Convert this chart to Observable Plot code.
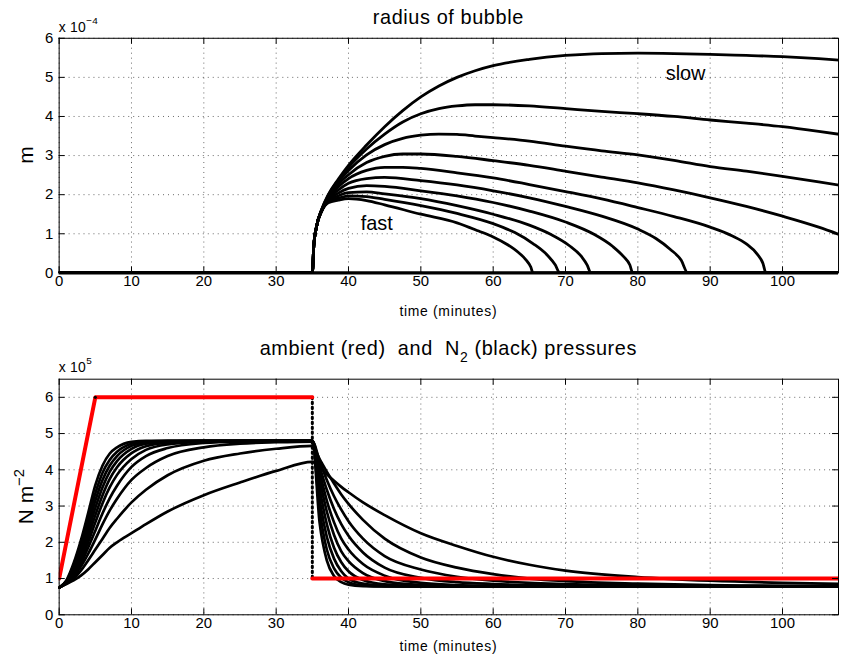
<!DOCTYPE html>
<html><head><meta charset="utf-8">
<script src="https://cdn.jsdelivr.net/npm/d3@7"></script>
<script src="https://cdn.jsdelivr.net/npm/@observablehq/plot@0.6"></script>
<style>
html,body{margin:0;padding:0;background:#fff;overflow:hidden;}
#chart{position:relative;width:841px;height:664px;overflow:hidden;background:#fff;}
#chart svg{display:block;}
</style></head><body><div id="chart"></div>
<script>
// ---------- data ----------
const xTicks = [0,10,20,30,40,50,60,70,80,90,100];
const radiusTicks = [0,1,2,3,4,5,6];
const pressureTicks = [0,1,2,3,4,5,6];
const xMax = 107.74;

// bubble radius (x 1e-4 m) per tissue, [time (min), radius]
const radiusCurves = [
 [[0,0],[35,0],[35.2,0.69],[35.6,1.2],[36.3,1.63],[37.2,2.0],[38.6,2.4],[40,2.75],[42.5,3.27],[45,3.74],[47.5,4.15],[50,4.5],[52.5,4.78],[55,5.0],[57.5,5.17],[60,5.3],[65,5.46],[70,5.56],[75,5.61],[80,5.62],[85,5.61],[90,5.59],[95,5.56],[100,5.53],[105,5.48],[108,5.44]],
 [[0,0],[35,0],[35.2,0.69],[35.6,1.2],[36.3,1.62],[37.2,1.98],[38.6,2.37],[40,2.7],[42.5,3.17],[45,3.55],[47.5,3.86],[50,4.07],[52.5,4.2],[55,4.27],[57.5,4.3],[60,4.3],[65,4.27],[70,4.2],[75,4.13],[80,4.07],[85,4.0],[90,3.91],[95,3.83],[100,3.74],[105,3.62],[108,3.54]],
 [[0,0],[35,0],[35.2,0.69],[35.6,1.2],[36.3,1.61],[37.2,1.96],[38.6,2.33],[40,2.62],[42.5,3.02],[45,3.28],[47.5,3.44],[50,3.52],[52.5,3.55],[55,3.54],[57.5,3.5],[60,3.46],[65,3.37],[70,3.24],[75,3.12],[80,3.02],[85,2.88],[90,2.72],[95,2.6],[100,2.47],[105,2.33],[108,2.24]],
 [[0,0],[35,0],[35.2,0.69],[35.6,1.2],[36.3,1.61],[37.2,1.93],[38.6,2.27],[40,2.51],[42.5,2.82],[45,2.98],[47.5,3.04],[50,3.04],[55,2.98],[60,2.87],[65,2.75],[70,2.6],[75,2.45],[80,2.3],[85,2.12],[90,1.92],[95,1.7],[100,1.45],[105,1.17],[108,0.97]],
 [[0,0],[35,0],[35.2,0.69],[35.6,1.2],[36.3,1.6],[37.2,1.91],[38.6,2.2],[40,2.41],[42.5,2.62],[45,2.7],[47.5,2.7],[50,2.67],[55,2.56],[60,2.43],[65,2.26],[70,2.08],[75,1.89],[80,1.67],[85,1.44],[90,1.17],[93,0.95],[95,0.74],[96.5,0.48],[97.3,0.24],[97.7,0],[108,0]],
 [[0,0],[35,0],[35.2,0.69],[35.6,1.2],[36.3,1.6],[37.2,1.88],[38.6,2.12],[40,2.29],[42.5,2.41],[45,2.44],[50,2.36],[55,2.25],[60,2.1],[65,1.92],[70,1.7],[75,1.45],[80,1.12],[82.5,0.88],[84.5,0.6],[86,0.32],[86.9,0],[108,0]],
 [[0,0],[35,0],[35.2,0.69],[35.6,1.2],[36.3,1.59],[37.2,1.86],[38.6,2.04],[40,2.16],[42.5,2.23],[45,2.21],[50,2.1],[55,1.97],[60,1.8],[65,1.58],[70,1.3],[74,0.98],[76.5,0.68],[78,0.42],[78.9,0.2],[79.3,0],[108,0]],
 [[0,0],[35,0],[35.2,0.69],[35.6,1.2],[36.3,1.59],[37.2,1.84],[38.6,1.97],[40,2.05],[42.5,2.07],[45,2.02],[50,1.9],[55,1.72],[60,1.5],[65,1.22],[68,0.98],[70.5,0.7],[72.2,0.42],[73,0.2],[73.5,0],[108,0]],
 [[0,0],[35,0],[35.2,0.69],[35.6,1.2],[36.3,1.58],[37.2,1.82],[38.6,1.91],[40,1.97],[42.5,1.95],[45,1.88],[50,1.72],[55,1.52],[60,1.26],[63,1.03],[65.5,0.75],[67.5,0.45],[68.6,0.2],[69.2,0],[108,0]],
 [[0,0],[35,0],[35.2,0.69],[35.6,1.2],[36.3,1.58],[37.2,1.79],[38.6,1.86],[40,1.9],[42.5,1.85],[45,1.74],[50,1.5],[55,1.28],[58,1.07],[60,0.92],[62,0.72],[63.5,0.52],[64.5,0.34],[65.2,0.15],[65.5,0],[108,0]]
];

// N2 tissue pressure (x 1e5 N m^-2), compression phase
const riseTimes = [0,1,2,3,4,5,6,7,8,10,12,15,20,25,30,35];
const n2Rise = [
 [0.75,0.95,1.42,2.05,2.8,3.58,4.12,4.45,4.62,4.77,4.8,4.8,4.8,4.8,4.8,4.8],
 [0.75,0.93,1.36,1.93,2.62,3.35,3.92,4.28,4.5,4.72,4.78,4.8,4.8,4.8,4.8,4.8],
 [0.75,0.92,1.3,1.82,2.45,3.15,3.72,4.12,4.38,4.66,4.75,4.79,4.8,4.8,4.8,4.8],
 [0.75,0.91,1.25,1.72,2.3,2.95,3.52,3.95,4.24,4.58,4.72,4.78,4.8,4.8,4.8,4.8],
 [0.75,0.9,1.2,1.62,2.15,2.75,3.3,3.75,4.07,4.46,4.65,4.75,4.79,4.8,4.8,4.8],
 [0.75,0.89,1.15,1.52,2.0,2.55,3.08,3.52,3.86,4.3,4.55,4.7,4.77,4.79,4.8,4.8],
 [0.75,0.88,1.1,1.42,1.85,2.32,2.8,3.22,3.56,4.08,4.38,4.6,4.74,4.78,4.79,4.8],
 [0.75,0.87,1.05,1.33,1.68,2.08,2.5,2.88,3.2,3.72,4.05,4.38,4.62,4.72,4.76,4.78],
 [0.75,0.86,1.0,1.22,1.5,1.8,2.1,2.4,2.65,3.1,3.45,3.85,4.25,4.45,4.58,4.66],
 [0.75,0.85,0.95,1.08,1.25,1.45,1.65,1.85,2.0,2.25,2.5,2.85,3.3,3.65,3.97,4.22]
];
// decompression phase
const decayTimes = [35,36,37,38,39,40,42,45,50,55,60,65,70,80,90,100,108];
const n2Decay = [
 [4.8,2.55,1.5,1.07,0.9,0.83,0.79,0.78,0.78,0.78,0.78,0.78,0.78,0.78,0.78,0.78,0.78],
 [4.8,2.9,1.8,1.28,1.02,0.9,0.81,0.78,0.78,0.78,0.78,0.78,0.78,0.78,0.78,0.78,0.78],
 [4.8,3.2,2.15,1.55,1.2,1.0,0.86,0.8,0.78,0.78,0.78,0.78,0.78,0.78,0.78,0.78,0.78],
 [4.8,3.5,2.5,1.85,1.45,1.2,0.96,0.84,0.79,0.78,0.78,0.78,0.78,0.78,0.78,0.78,0.78],
 [4.8,3.75,2.85,2.2,1.75,1.48,1.15,0.93,0.82,0.79,0.78,0.78,0.78,0.78,0.78,0.78,0.78],
 [4.8,3.95,3.15,2.55,2.1,1.8,1.4,1.08,0.88,0.82,0.8,0.79,0.78,0.78,0.78,0.78,0.78],
 [4.8,4.1,3.45,2.92,2.5,2.18,1.72,1.3,1.02,0.9,0.85,0.82,0.8,0.79,0.78,0.78,0.78],
 [4.78,4.25,3.72,3.27,2.9,2.58,2.1,1.62,1.25,1.05,0.94,0.88,0.85,0.81,0.8,0.79,0.78],
 [4.66,4.3,3.95,3.62,3.32,3.06,2.62,2.1,1.58,1.3,1.12,1.0,0.93,0.86,0.82,0.8,0.8],
 [4.22,4.08,3.88,3.7,3.53,3.38,3.1,2.75,2.25,1.9,1.6,1.38,1.22,1.04,0.94,0.88,0.85]
];

// ambient pressure (x 1e5 N m^-2)
const ambientTimes = [0,5,35,35,108];
const ambientPressure = [1,6,6,1,1];

const annotations = [{text:"slow", t:86.6, v:5.1},{text:"fast", t:43.9, v:1.25}];

// ---------- build tables ----------
const radiusRows = radiusCurves.flatMap((c,i)=>c.map(([t,r])=>({id:i,t,r})));
const n2Rows = [];
n2Rise.forEach((vals,i)=>{
  vals.forEach((p,j)=>n2Rows.push({id:i,t:riseTimes[j],p}));
  n2Decay[i].forEach((p,j)=>{ if(j>0) n2Rows.push({id:i,t:decayTimes[j],p}); });
});
const ambientRows = ambientTimes.map((t,i)=>({t,p:ambientPressure[i]}));
const ambientRed = [
  ...ambientRows.slice(0,3).map(d=>({...d,seg:0})),
  ...ambientRows.slice(3).map(d=>({...d,seg:1}))
];
const ambientDrop = ambientRows.slice(2,4);

// ---------- layout ----------
const W = 846, ML = 59, MR = 3;
const font = "'Liberation Sans', Arial, Helvetica, sans-serif";
const tickLen = 6;

function frameTicks(areaW, areaH, yt) {
  const o = {stroke:"#000", strokeWidth:1};
  return [
    Plot.ruleX(xTicks, {x:d=>d, insetTop: areaH - tickLen, ...o}),
    Plot.ruleX(xTicks, {x:d=>d, insetBottom: areaH - tickLen, ...o}),
    Plot.ruleY(yt, {y:d=>d, insetRight: areaW - tickLen, ...o}),
    Plot.ruleY(yt, {y:d=>d, insetLeft: areaW - tickLen, ...o})
  ];
}
const gridStyle = {stroke:"#000", strokeOpacity:0.6, strokeWidth:1, strokeDasharray:"1,4"};
const axisStyle = {tickSize:0, label:null, fontSize:15, tickFormat:d=>String(d)};

// ---------- top panel ----------
const H1 = 330, MT1 = 38, MB1 = 56;
const radiusChart = Plot.plot({
  width: W, height: H1, marginLeft: ML, marginRight: MR, marginTop: MT1, marginBottom: MB1,
  style: {fontFamily: font, fontSize: "15px", background: "#fff", overflow: "visible", color: "#000"},
  x: {domain: [0, xMax]},
  y: {domain: [0, 6]},
  marks: [
    Plot.gridX(xTicks, gridStyle),
    Plot.gridY(radiusTicks, gridStyle),
    Plot.line(radiusRows, {x:"t", y:"r", z:"id", stroke:"#000", strokeWidth:2.8, curve:"monotone-x", clip:true}),
    Plot.ruleY([0], {stroke:"#000", strokeWidth:3.5}),
    Plot.frame({stroke:"#000", strokeWidth:1}),
    ...frameTicks(W-ML-MR, H1-MT1-MB1, radiusTicks),
    Plot.axisX(xTicks, {...axisStyle, tickPadding:3}),
    Plot.axisY(radiusTicks, {...axisStyle, tickPadding:6}),
    Plot.text(annotations, {x:"t", y:"v", text:"text", fontSize:20, fill:"#000", textAnchor:"middle", lineAnchor:"middle"})
  ]
});

// ---------- bottom panel ----------
const H2 = 334, MT2 = 51, MB2 = 46;
const pressureChart = Plot.plot({
  width: W, height: H2, marginLeft: ML, marginRight: MR, marginTop: MT2, marginBottom: MB2,
  style: {fontFamily: font, fontSize: "15px", background: "#fff", overflow: "visible", color: "#000"},
  x: {domain: [0, xMax]},
  y: {domain: [0, 6.5]},
  marks: [
    Plot.gridX(xTicks, gridStyle),
    Plot.gridY(pressureTicks, gridStyle),
    Plot.line(n2Rows, {x:"t", y:"p", z:"id", stroke:"#000", strokeWidth:2.7, curve:"monotone-x", clip:true}),
    Plot.line(ambientDrop, {x:"t", y:"p", stroke:"#000", strokeWidth:3, strokeDasharray:"1.5,3.5"}),
    Plot.line(ambientRed, {x:"t", y:"p", z:"seg", stroke:"#ff0000", strokeWidth:4, clip:true}),
    Plot.dot(ambientRows.slice(1,2), {x:"t", y:"p", r:1.6, fill:"#000"}),
    Plot.frame({stroke:"#000", strokeWidth:1}),
    ...frameTicks(W-ML-MR, H2-MT2-MB2, pressureTicks),
    Plot.axisX(xTicks, {...axisStyle, tickPadding:3}),
    Plot.axisY(pressureTicks, {...axisStyle, tickPadding:6})
  ]
});

const chart = document.getElementById("chart");
chart.appendChild(radiusChart);
chart.appendChild(pressureChart);

// ---------- titles and labels (rich text) ----------
function addText(svg, x, y, size, parts, opts = {}) {
  const t = d3.select(svg).append("text")
    .attr("x", x).attr("y", y)
    .attr("font-family", font).attr("font-size", size)
    .attr("fill", "#000")
    .attr("text-anchor", opts.anchor || "middle")
    .style("white-space", "pre")
    .attr("letter-spacing", opts.ls || 0);
  if (opts.rotate) t.attr("transform", `rotate(${opts.rotate},${x},${y})`);
  parts.forEach(p => {
    const s = t.append("tspan").text(p.t);
    if (p.size) s.attr("font-size", p.size);
    if (p.dy) s.attr("dy", p.dy);
  });
  return t;
}
const cx = ML + (W - ML - MR) / 2;

// top panel text
addText(radiusChart, cx, 24, 20, [{t:"radius of bubble"}], {ls:0.6});
addText(radiusChart, ML, 32, 14, [{t:"x 10"}, {t:"\u22124", size:10, dy:-8}], {anchor:"start", ls:0.3});
addText(radiusChart, 33, MT1 + (H1-MT1-MB1)/2, 21, [{t:"m"}], {rotate:-90});
addText(radiusChart, cx, 318, 14, [{t:"time (minutes)"}], {ls:0.7});

// bottom panel text
addText(pressureChart, cx, 27, 20, [{t:"ambient (red)  and  N"}, {t:"2", size:14, dy:7}, {t:" (black) pressures", dy:-7}], {ls:0.6});
addText(pressureChart, ML, 44, 14, [{t:"x 10"}, {t:"5", size:10, dy:-8}], {anchor:"start", ls:0.3});
addText(pressureChart, 33, MT2 + (H2-MT2-MB2)/2, 21, [{t:"N m"}, {t:"\u22122", size:15, dy:-9}], {rotate:-90});
addText(pressureChart, cx, 325, 14, [{t:"time (minutes)"}], {ls:0.7});
</script>
</body></html>
